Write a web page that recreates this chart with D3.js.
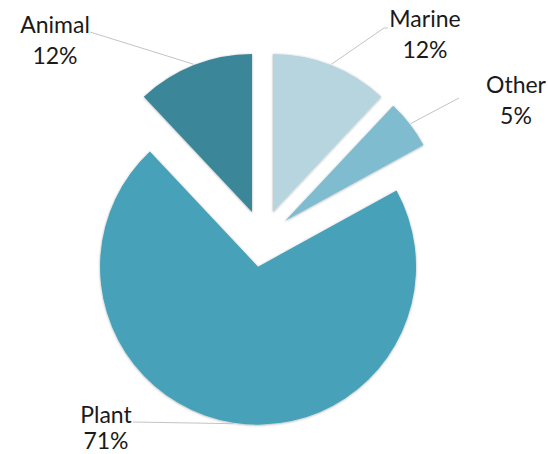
<!DOCTYPE html>
<html>
<head>
<meta charset="utf-8">
<script src="https://cdn.jsdelivr.net/npm/d3@7"></script>
<style>
html,body{margin:0;padding:0;background:#fff;}
svg{display:block;}
</style>
</head>
<body>
<svg id="chart" width="548" height="454"></svg>
<script>
const categories = ["Marine", "Other", "Plant", "Animal"];
const values = [12, 5, 71, 12];
const labels = ["12%", "5%", "71%", "12%"];
const colors = ["#b7d5df", "#7fbcd0", "#47a1b9", "#3b8699"];

// layout (not data)
const cx = 262.5, cy = 238.5, R = 158, explode = 28.5;
const labelPos = {
  Marine: {x: 425, y: 27, dy: 31, ax: 388, ay: 28, elbow: [384, 28]},
  Other:  {x: 516, y: 93, dy: 31, ax: 459, ay: 98},
  Plant:  {x: 106, y: 423, dy: 26, ax: 133, ay: 422},
  Animal: {x: 55,  y: 33, dy: 31, ax: 90, ay: 32}
};

const svg = d3.select("#chart");
const defs = svg.append("defs");
const f = defs.append("filter").attr("id","sh").attr("x","-20%").attr("y","-20%").attr("width","140%").attr("height","140%");
f.append("feDropShadow").attr("dx",0).attr("dy",0.5).attr("stdDeviation",1.3)
  .attr("flood-color","#000").attr("flood-opacity",0.35);

const data = categories.map((c,i)=>({cat:c, value:values[i], label:labels[i], color:colors[i]}));
const pie = d3.pie().value(d=>d.value).sort(null).startAngle(0).endAngle(2*Math.PI);
const arcs = pie(data);
const arc = d3.arc().innerRadius(0).outerRadius(R);

const g = svg.append("g").attr("transform",`translate(${cx},${cy})`);

function offset(a){
  const m = (a.startAngle + a.endAngle)/2;
  return [Math.sin(m)*explode, -Math.cos(m)*explode];
}

g.selectAll("path.slice").data(arcs).enter().append("path")
  .attr("class","slice")
  .attr("d", arc)
  .attr("fill", d=>d.data.color)
  .attr("filter","url(#sh)")
  .attr("transform", d=>{const o=offset(d); return `translate(${o[0]},${o[1]})`;});

// leader lines
const lines = svg.append("g");
arcs.forEach(a=>{
  const o = offset(a);
  const m = (a.startAngle + a.endAngle)/2;
  const px = cx + o[0] + Math.sin(m)*(R+1);
  const py = cy + o[1] - Math.cos(m)*(R+1);
  const lp = labelPos[a.data.cat];
  const pts = [[px,py]];
  if (lp.elbow) pts.push(lp.elbow);
  pts.push([lp.ax, lp.ay]);
  lines.append("path")
    .attr("d", d3.line()(pts))
    .attr("fill","none")
    .attr("stroke","#c4c4c4")
    .attr("stroke-width",1);
});

const texts = svg.append("g")
  .attr("font-family","Lato, 'Open Sans', sans-serif")
  .attr("font-size","23px")
  .attr("fill","#1a1a1a")
  .attr("text-anchor","middle");
arcs.forEach(a=>{
  const lp = labelPos[a.data.cat];
  texts.append("text").attr("x",lp.x).attr("y",lp.y).text(a.data.cat);
  texts.append("text").attr("x",lp.x).attr("y",lp.y+lp.dy).text(a.data.label);
});
</script>
</body>
</html>
